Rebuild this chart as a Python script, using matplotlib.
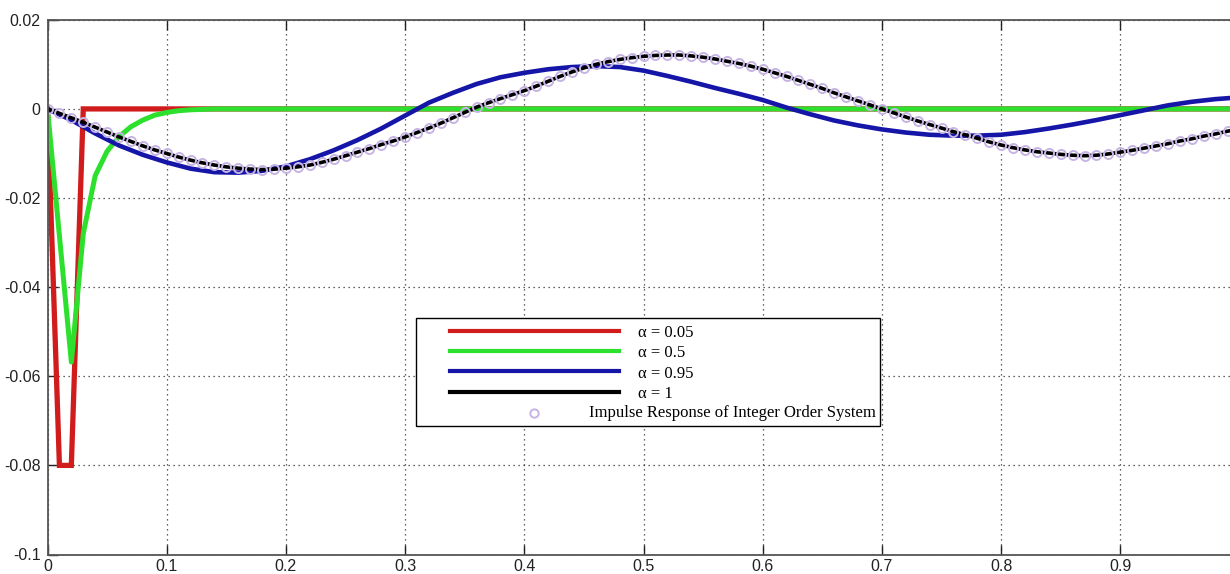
import numpy as np
import matplotlib
matplotlib.use('Agg')
import matplotlib.pyplot as plt
from matplotlib.patches import Rectangle
from matplotlib.lines import Line2D

# alpha = 0.05 (red)
t_red = [0.0, 0.01, 0.02, 0.03, 1.0]
y_red = [0.0, -0.080, -0.080, 0.0, 0.0]

# alpha = 0.5 (green)
t_green = [0.0, 0.01, 0.02, 0.03, 0.04, 0.05, 0.06, 0.07, 0.08, 0.09,
           0.10, 0.11, 0.12, 0.13, 0.14, 1.0]
y_green = [0.0, -0.0285, -0.0568, -0.0280, -0.0150, -0.0095, -0.0062, -0.0040,
           -0.0025, -0.0014, -0.0008, -0.0004, -0.0002, -0.0001, 0.0, 0.0]

# alpha = 0.95 (blue)
t_blue = [0.00, 0.02, 0.04, 0.06, 0.08, 0.10, 0.12, 0.14, 0.16, 0.18,
          0.20, 0.22, 0.24, 0.26, 0.28, 0.30, 0.32, 0.34, 0.36, 0.38,
          0.40, 0.42, 0.44, 0.46, 0.48, 0.50, 0.52, 0.54, 0.56, 0.58,
          0.60, 0.62, 0.64, 0.66, 0.68, 0.70, 0.72, 0.74, 0.76, 0.78,
          0.80, 0.82, 0.84, 0.86, 0.88, 0.90, 0.92, 0.94, 0.96, 0.98, 1.00]
y_blue = [0.0, -0.0025, -0.0055, -0.0082, -0.0103, -0.0120, -0.0134, -0.0142, -0.0143, -0.0139,
          -0.0129, -0.0113, -0.0093, -0.0070, -0.0044, -0.0015, 0.0014, 0.0036, 0.0056, 0.0071,
          0.0081, 0.0089, 0.0094, 0.0096, 0.0094, 0.0086, 0.0074, 0.0061, 0.0047, 0.0034,
          0.0020, 0.0003, -0.0012, -0.0026, -0.0037, -0.0046, -0.0053, -0.0058, -0.0060, -0.0060,
          -0.0058, -0.0052, -0.0044, -0.0035, -0.0025, -0.0014, -0.0003, 0.0008, 0.0016, 0.0022, 0.0026]

# alpha = 1 and integer order impulse response (same samples, dt = 0.01)
t_black = [round(0.01 * i, 2) for i in range(101)]
y_black = [0.0, -0.0010, -0.0020, -0.0030, -0.0041, -0.0052, -0.0063, -0.0073, -0.0083, -0.0092,
           -0.0100, -0.0108, -0.0115, -0.0121, -0.0126, -0.0130, -0.0133, -0.0135, -0.0136, -0.0135,
           -0.0133, -0.0130, -0.0126, -0.0120, -0.0113, -0.0105, -0.0097, -0.0089, -0.0080, -0.0072,
           -0.0063, -0.0053, -0.0043, -0.0032, -0.0020, -0.0008, 0.0004, 0.0014, 0.0023, 0.0032,
           0.0041, 0.0051, 0.0062, 0.0073, 0.0083, 0.0092, 0.0100, 0.0106, 0.0111, 0.0115,
           0.0118, 0.0120, 0.0121, 0.0121, 0.0119, 0.0116, 0.0112, 0.0107, 0.0102, 0.0096,
           0.0089, 0.0081, 0.0073, 0.0064, 0.0055, 0.0046, 0.0036, 0.0027, 0.0018, 0.0009,
           0.0000, -0.0009, -0.0018, -0.0027, -0.0035, -0.0043, -0.0051, -0.0058, -0.0066, -0.0074,
           -0.0081, -0.0087, -0.0092, -0.0096, -0.0099, -0.0102, -0.0104, -0.0105, -0.0104, -0.0101,
           -0.0097, -0.0093, -0.0088, -0.0083, -0.0078, -0.0072, -0.0067, -0.0061, -0.0056, -0.0050,
           -0.0045]

# the 1.0 tick falls just past the cropped right edge, so it is left out
x_ticks = [0, 0.1, 0.2, 0.3, 0.4, 0.5, 0.6, 0.7, 0.8, 0.9]
x_tick_labels = ['0', '0.1', '0.2', '0.3', '0.4', '0.5', '0.6', '0.7', '0.8', '0.9']
y_ticks = [0.02, 0, -0.02, -0.04, -0.06, -0.08, -0.1]
y_tick_labels = ['0.02', '0', '-0.02', '-0.04', '-0.06', '-0.08', '-0.1']

legend_labels = ['\u03b1 = 0.05', '\u03b1 = 0.5', '\u03b1 = 0.95', '\u03b1 = 1',
                 'Impulse Response of Integer Order System']

RED = '#d01c1c'
GREEN = '#2de02d'
BLUE = '#1515a8'
LAVENDER = '#c6b4e4'

fig = plt.figure(figsize=(12.3, 5.74), dpi=100)
# axes run a bit past the right edge of the image, like the cropped original
ax = fig.add_axes([47.5 / 1230, 1 - 554.5 / 574, 1192 / 1230, 534.7 / 574])

ax.plot(t_red, y_red, color=RED, lw=3.8, solid_joinstyle='miter')
ax.plot(t_green, y_green, color=GREEN, lw=3.6)
ax.plot(t_blue, y_blue, color=BLUE, lw=3.3)
ax.plot(t_black, y_black, color='black', lw=2.6)
ax.plot(t_black, y_black, 'o', ms=6.5, mfc='none', mec=LAVENDER, mew=1.4)

ax.set_xlim(0, 1)
ax.set_ylim(-0.1, 0.02)
ax.set_xticks(x_ticks)
ax.set_xticklabels(x_tick_labels)
ax.set_yticks(y_ticks)
ax.set_yticklabels(y_tick_labels)

ax.grid(True, color='#333333', linestyle=(0, (1, 3)), linewidth=0.9)
ax.tick_params(direction='in', length=7, width=1, top=True, right=True,
               labelsize=11.5, colors='#222222')
ax.tick_params(axis='x', pad=3)
ax.tick_params(axis='y', pad=5)
for lab in ax.get_xticklabels() + ax.get_yticklabels():
    lab.set_fontfamily('Liberation Sans')
for sp in ax.spines.values():
    sp.set_color('#555555')
    sp.set_linewidth(1.3)

# legend box drawn by hand (MATLAB places the marker-only entry differently)
box = Rectangle((0.3091, 0.2403), 0.6984 - 0.3091, 0.4417 - 0.2403,
                transform=ax.transAxes, facecolor='white', edgecolor='black',
                lw=1.0, zorder=5)
ax.add_patch(box)
line_rows = [0.4186, 0.3811, 0.3432, 0.3045]
line_colors = [RED, GREEN, BLUE, 'black']
for yy, cc, lab in zip(line_rows, line_colors, legend_labels[:4]):
    ax.add_line(Line2D([0.3377, 0.4797], [yy, yy], transform=ax.transAxes,
                       color=cc, lw=3.0, zorder=6))
    ax.text(0.4956, yy - 0.005, lab, transform=ax.transAxes, va='center',
            ha='left', fontsize=12, family='Liberation Serif', zorder=6)
ax.add_line(Line2D([0.4081], [0.2641], transform=ax.transAxes, marker='o',
                   ms=6, mfc='none', mec=LAVENDER, mew=1.4, zorder=6))
ax.text(0.4545, 0.2641, legend_labels[4], transform=ax.transAxes, va='center',
        ha='left', fontsize=12, family='Liberation Serif', zorder=6)

fig.savefig('out.png', dpi=100)
